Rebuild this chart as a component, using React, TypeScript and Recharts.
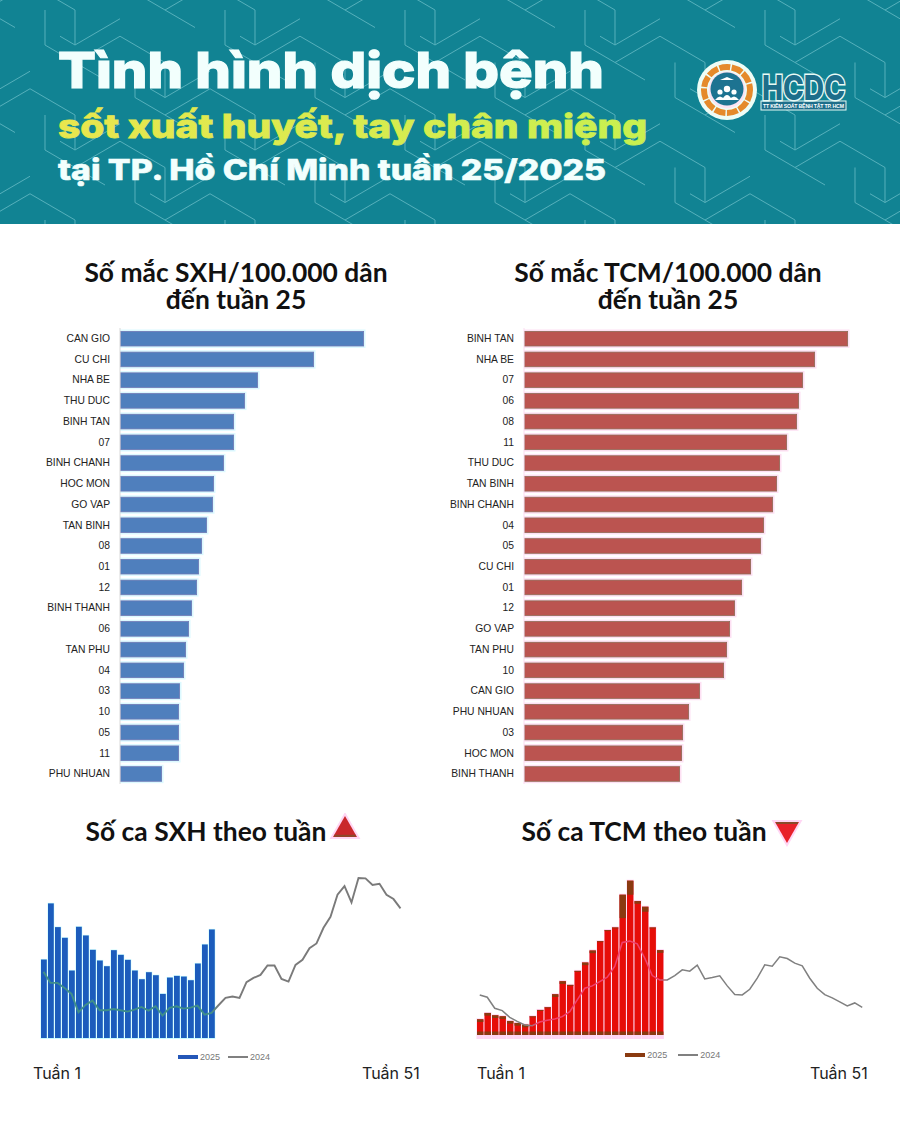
import React from "react";
import {
  BarChart,
  Bar,
  ComposedChart,
  Line,
  XAxis,
  YAxis,
  Legend,
} from "recharts";

// incidence per 100,000
const sxhDistricts = ["CAN GIO", "CU CHI", "NHA BE", "THU DUC", "BINH TAN", "07", "BINH CHANH", "HOC MON", "GO VAP", "TAN BINH", "08", "01", "12", "BINH THANH", "06", "TAN PHU", "04", "03", "10", "05", "11", "PHU NHUAN"];
const sxhRates = [244, 194, 138, 125, 114, 114, 104, 94, 93, 87, 82, 79, 77, 72, 69, 66, 64, 60, 59, 59, 59, 42];

const tcmDistricts = ["BINH TAN", "NHA BE", "07", "06", "08", "11", "THU DUC", "TAN BINH", "BINH CHANH", "04", "05", "CU CHI", "01", "12", "GO VAP", "TAN PHU", "10", "CAN GIO", "PHU NHUAN", "03", "HOC MON", "BINH THANH"];
const tcmRates = [324, 291, 279, 275, 273, 263, 256, 253, 249, 240, 237, 227, 218, 211, 206, 203, 200, 176, 165, 159, 158, 156];

// weekly cases
const sxh2025 = [235, 403, 332, 300, 202, 333, 307, 264, 232, 215, 263, 249, 234, 202, 176, 197, 188, 132, 181, 186, 184, 173, 223, 280, 325];
const sxh2024 = [198, 165, 165, 150, 132, 77, 99, 112, 83, 83, 87, 83, 79, 85, 93, 82, 95, 67, 90, 95, 88, 91, 97, 70, 75, 98, 120, 124, 120, 167, 180, 189, 217, 217, 177, 169, 219, 234, 269, 283, 330, 363, 429, 455, 406, 479, 478, 458, 462, 429, 416, 388];

const tcm2025 = [47, 66, 59, 56, 42, 36, 31, 56, 75, 83, 122, 161, 150, 192, 217, 253, 281, 314, 322, 420, 462, 401, 384, 322, 254];
const tcm2024 = [120, 113, 80, 73, 53, 41, 30, 28, 39, 44, 48, 55, 70, 105, 140, 147, 160, 173, 205, 277, 281, 273, 230, 178, 165, 165, 178, 195, 191, 209, 168, 172, 177, 147, 121, 120, 137, 170, 210, 206, 234, 229, 215, 207, 170, 140, 121, 111, 99, 87, 96, 83];
// brown part left showing at the top of each red bar
const tcmCap = [8, 8, 8, 8, 8, 8, 8, 3, 3, 3, 8, 8, 3, 3, 8, 8, 3, 3, 3, 70, 42, 8, 15, 3, 8];

const toRows = (names: string[], values: number[]) =>
  names.map((name, i) => ({ name, value: values[i] }));

const toWeeks = (bars: number[], line: number[], caps?: number[]) =>
  line.map((v, i) => ({ week: i + 1, y2025: bars[i], y2024: v, cap: caps ? caps[i] : 0 }));

const headFont = "Inter, 'Open Sans', sans-serif";
const titleFont = "Lato, 'Open Sans', sans-serif";
const tickFont = "'Liberation Sans', Arial, sans-serif";

// background motif, in steps of 15 x 8.75 px, repeated on a 90/52.5 lattice
const motif = [
  [[0, 0], [0, 4], [4, 8]],
  [[1, 3], [2, 4], [5, 1]],
  [[2, 6], [5, 3], [8, 6], [8, 10]],
];
const lattice = [[0, 0], [6, 6], [-6, 6], [6, -6], [-6, -6], [12, 0], [-12, 0], [0, 12], [0, -12], [-6, -18], [6, -18]];

function HeaderPattern() {
  const paths = lattice.flatMap(([ox, oy]) =>
    motif.map((seg) =>
      seg.map(([u, v], i) => `${i ? "L" : "M"}${(u + ox) * 15} ${(v + oy) * 8.75}`).join(" ")
    )
  );
  return (
    <svg width={900} height={224} style={{ position: "absolute", left: 0, top: 0 }}>
      <defs>
        <pattern id="hexLines" width="180" height="105" patternUnits="userSpaceOnUse" x="45" y="10">
          <g fill="none" stroke="#55b0bb" strokeWidth={1}>
            {paths.map((d, i) => (
              <path key={i} d={d} />
            ))}
          </g>
        </pattern>
        <linearGradient id="subTitle" x1="0" y1="0" x2="1" y2="0">
          <stop offset="0%" stopColor="#e9e64e" />
          <stop offset="100%" stopColor="#c8f050" />
        </linearGradient>
      </defs>
      <rect width={900} height={224} fill="#118393" />
      <rect width={900} height={224} fill="url(#hexLines)" />
      <text x={58} y={88} fontFamily={headFont} fontWeight={800} fontSize={50} fill="#f2fffd" stroke="#f2fffd" strokeWidth={1.2} textLength={546} lengthAdjust="spacingAndGlyphs">
        Tình hình dịch bệnh
      </text>
      <text x={58} y={138} fontFamily={headFont} fontWeight={800} fontSize={33} fill="url(#subTitle)" stroke="url(#subTitle)" strokeWidth={0.8} textLength={589} lengthAdjust="spacingAndGlyphs">
        sốt xuất huyết, tay chân miệng
      </text>
      <text x={58} y={180} fontFamily={headFont} fontWeight={800} fontSize={28.5} fill="#f2fffd" stroke="#f2fffd" strokeWidth={0.6} textLength={548} lengthAdjust="spacingAndGlyphs">
        tại TP. Hồ Chí Minh tuần 25/2025
      </text>
      <Logo />
    </svg>
  );
}

function Logo() {
  return (
    <g>
      <circle cx={727} cy={90} r={30} fill="#eefdf6" />
      <circle cx={727} cy={90} r={23} fill="none" stroke="#e58a2b" strokeWidth={6} strokeDasharray="11 1.5" />
      <circle cx={727} cy={90} r={18.5} fill="#fbe3f2" />
      <circle cx={727} cy={89} r={16.5} fill="#1d7391" />
      <circle cx={720} cy={92} r={2.6} fill="#fff" />
      <circle cx={727} cy={89} r={3.2} fill="#fff" />
      <circle cx={734} cy={92} r={2.6} fill="#fff" />
      <path d="M715 100 Q720 93 725 100 Z M722 100 Q727 90 732 100 Z M729 100 Q734 93 739 100 Z" fill="#fff" />
      <path d="M720 80 L734 80 L727 77 Z" fill="#fff" />
      <rect x={761} y={101} width={85} height={9} fill="#1d6e8a" stroke="#e8fbf6" strokeWidth={1} />
      <text
        x={762}
        y={100}
        fontFamily={headFont}
        fontWeight={800}
        fontSize={34}
        fill="#1d6e8a"
        stroke="#e8fbf6"
        strokeWidth={3}
        paintOrder="stroke"
        textLength={83}
        lengthAdjust="spacingAndGlyphs"
      >
        HCDC
      </text>
      <text x={763} y={108} fontFamily={tickFont} fontWeight={700} fontSize={5.2} fill="#fff" textLength={81}>
        TT KIỂM SOÁT BỆNH TẬT TP. HCM
      </text>
    </g>
  );
}

function Title({ lines, cx, top }: { lines: string[]; cx: number; top: number }) {
  return (
    <div
      style={{
        position: "absolute",
        left: cx - 220,
        top,
        width: 440,
        textAlign: "center",
        fontFamily: titleFont,
        fontWeight: 700,
        fontSize: 26.4,
        lineHeight: "27px",
        color: "#111",
      }}
    >
      {lines.map((l) => (
        <div key={l}>{l}</div>
      ))}
    </div>
  );
}

const RankTick = (p: any) => (
  <text x={p.x} y={p.y} dy={3.6} textAnchor="end" fill="#222" fontSize={10.3} fontFamily={tickFont}>
    {p.payload.value}
  </text>
);

const rankBar = (fill: string, edge: string, halo: string) => (p: any) => (
  <g>
    <rect x={p.x} y={p.y - 1.5} width={p.width + 1.5} height={p.height + 3} fill={halo} />
    <rect x={p.x + 0.4} y={p.y + 0.4} width={p.width - 0.8} height={p.height - 0.8} fill={fill} stroke={edge} strokeWidth={0.8} />
  </g>
);

function RankChart(props: {
  rows: { name: string; value: number }[];
  left: number;
  axisWidth: number;
  plotWidth: number;
  shape: any;
  axisColor: string;
}) {
  const { rows, left, axisWidth, plotWidth, shape, axisColor } = props;
  return (
    <div style={{ position: "absolute", left, top: 327.6 }}>
      <BarChart
        width={axisWidth + plotWidth + 4}
        height={456}
        data={rows}
        layout="vertical"
        margin={{ top: 0, right: 4, bottom: 0, left: 0 }}
      >
        <XAxis type="number" hide domain={[0, plotWidth]} />
        <YAxis
          type="category"
          dataKey="name"
          width={axisWidth}
          interval={0}
          tickLine={false}
          tickMargin={4}
          axisLine={{ stroke: axisColor }}
          tick={RankTick}
        />
        <Bar dataKey="value" barSize={15.4} shape={shape} isAnimationActive={false} />
      </BarChart>
    </div>
  );
}

const renderLegend = (barColor: string, gap: number, offset: number, shift: number) => (p: any) => {
  const items = [...(p.payload || [])].sort((a: any, b: any) => (a.value === "2025" ? -1 : b.value === "2025" ? 1 : 0));
  return (
    <div
      style={{
        display: "flex",
        justifyContent: "center",
        alignItems: "center",
        marginTop: offset,
        marginLeft: shift,
        fontFamily: tickFont,
        fontSize: 9,
        lineHeight: "10px",
        color: "#777",
      }}
    >
      {items.map((item: any, i: number) => (
        <span key={item.value} style={{ display: "flex", alignItems: "center", marginRight: i === 0 ? gap : 0 }}>
          <span
            style={
              item.value === "2025"
                ? { width: 20, height: 4, background: barColor, marginRight: 2 }
                : { width: 20, height: 1.5, background: "#808080", marginRight: 2 }
            }
          />
          {item.value}
        </span>
      ))}
    </div>
  );
};

const BlueBar = (p: any) => (
  <g>
    <rect x={p.x - 0.5} y={p.y - 0.6} width={p.width + 1} height={p.height + 1.6} fill="#c6fbff" />
    <rect x={p.x} y={p.y} width={p.width} height={p.height} fill="#1c5cbc" />
  </g>
);

// red bars keep a brown cap and foot, as in the source chart
const CappedBar = (p: any) => {
  const { x, y, width, height, payload } = p;
  if (!height) return <g />;
  const unit = height / payload.y2025;
  return (
    <g>
      <rect x={x - 0.5} y={y - 1} width={width + 1} height={height + 5} fill="#ffd6f4" />
      <rect x={x} y={y} width={width} height={height} fill="#e60d08" />
      <rect x={x} y={y} width={width} height={payload.cap * unit} fill="#8a3a10" />
      <rect x={x} y={y + height - 3.5} width={width} height={3.5} fill="#8a3a10" />
    </g>
  );
};

function WeekChart(props: {
  rows: { week: number; y2025?: number; y2024: number }[];
  left: number;
  top: number;
  width: number;
  legendColor: string;
  legendOffset: number;
  legendGap: number;
  legendShift: number;
  barShape: any;
  gradId: string;
  stops: [number, string][];
  barSize: number;
  lineWidth: number;
}) {
  const { rows, left, top, width, legendColor, legendOffset, legendGap, legendShift, barShape, gradId, stops, barSize, lineWidth } = props;
  return (
    <div style={{ position: "absolute", left, top }}>
      <ComposedChart
        width={width}
        height={195}
        data={rows}
        barCategoryGap={0}
        margin={{ top: 0, right: 0, bottom: 0, left: 0 }}
      >
        <defs>
          <linearGradient id={gradId} x1="0" y1="0" x2="1" y2="0">
            {stops.map(([o, c], i) => (
              <stop key={i} offset={o} stopColor={c} />
            ))}
          </linearGradient>
        </defs>
        <XAxis dataKey="week" hide />
        <YAxis hide domain={[0, 500]} />
        <Legend height={28} content={renderLegend(legendColor, legendGap, legendOffset, legendShift)} />
        <Bar
          dataKey="y2025"
          name="2025"
          fill={legendColor}
          barSize={barSize}
          shape={barShape}
          isAnimationActive={false}
        />
        <Line
          dataKey="y2024"
          name="2024"
          type="linear"
          dot={false}
          stroke={`url(#${gradId})`}
          strokeWidth={lineWidth}
          legendType="line"
          isAnimationActive={false}
        />
      </ComposedChart>
    </div>
  );
}

function Caption({ text, left, top }: { text: string; left: number; top: number }) {
  return (
    <div style={{ position: "absolute", left, top, fontFamily: "Inter, sans-serif", fontWeight: 400, fontSize: 16, color: "#222", whiteSpace: "nowrap" }}>
      {text}
    </div>
  );
}

function Marker({ left, top, up }: { left: number; top: number; up: boolean }) {
  return (
    <svg width={32} height={28} style={{ position: "absolute", left, top }}>
      <path
        d={up ? "M16 3 L28 24 L4 24 Z" : "M4 3 L28 3 L16 24 Z"}
        fill="#ffd6f4"
        stroke="#ffd6f4"
        strokeWidth={4}
      />
      <path d={up ? "M16 3 L28 24 L4 24 Z" : "M4 3 L28 3 L16 24 Z"} fill={up ? "#c9272b" : "#e8202a"} />
      <path d={up ? "M5.2 22.8 L26.8 22.8" : "M5 4 L27 4"} stroke="#8a4a2a" strokeWidth={2} />
    </svg>
  );
}

export default function App() {
  return (
    <div style={{ position: "absolute", left: 0, top: 0, width: 900, height: 1123, background: "#fff", overflow: "hidden" }}>
      <HeaderPattern />

      <Title lines={["Số mắc SXH/100.000 dân", "đến tuần 25"]} cx={236} top={259} />
      <Title lines={["Số mắc TCM/100.000 dân", "đến tuần 25"]} cx={668} top={259} />

      <RankChart
        rows={toRows(sxhDistricts, sxhRates)}
        left={0}
        axisWidth={120}
        plotWidth={250}
        axisColor="#d9d9d9"
        shape={rankBar("#4f7fbd", "#6f78b4", "#dcf9ff")}
      />
      <RankChart
        rows={toRows(tcmDistricts, tcmRates)}
        left={450}
        axisWidth={74}
        plotWidth={340}
        axisColor="#fbdcf0"
        shape={rankBar("#bb5450", "#8f6a55", "#fde0f3")}
      />

      <Title lines={["Số ca SXH theo tuần"]} cx={206} top={818} />
      <Title lines={["Số ca TCM theo tuần"]} cx={644} top={818} />
      <Marker left={329} top={813} up />
      <Marker left={771} top={819} up={false} />

      <WeekChart
        rows={toWeeks(sxh2025, sxh2024)}
        left={39.5}
        top={871}
        width={364}
        legendColor="#2457b8"
        legendOffset={14}
        legendGap={8}
        legendShift={5}
        barShape={BlueBar}
        barSize={5.8}
        lineWidth={1.9}
        gradId="lineSxh"
        stops={[[0, "#3e8f8a"], [0.47, "#3e8f8a"], [0.49, "#7a7a7a"], [1, "#7a7a7a"]]}
      />
      <WeekChart
        rows={toWeeks(tcm2025, tcm2024, tcmCap)}
        left={476.25}
        top={868}
        width={390}
        legendColor="#8a3a10"
        legendOffset={15}
        legendGap={11}
        legendShift={3}
        barShape={CappedBar}
        barSize={6.4}
        lineWidth={1.5}
        gradId="lineTcm"
        stops={[[0, "#808080"], [0.13, "#808080"], [0.15, "#f0406e"], [0.47, "#f0406e"], [0.49, "#808080"], [1, "#808080"]]}
      />

      <Caption text="Tuần 1" left={33} top={1063} />
      <Caption text="Tuần 51" left={362} top={1063} />
      <Caption text="Tuần 1" left={477} top={1063} />
      <Caption text="Tuần 51" left={810} top={1063} />
    </div>
  );
}
